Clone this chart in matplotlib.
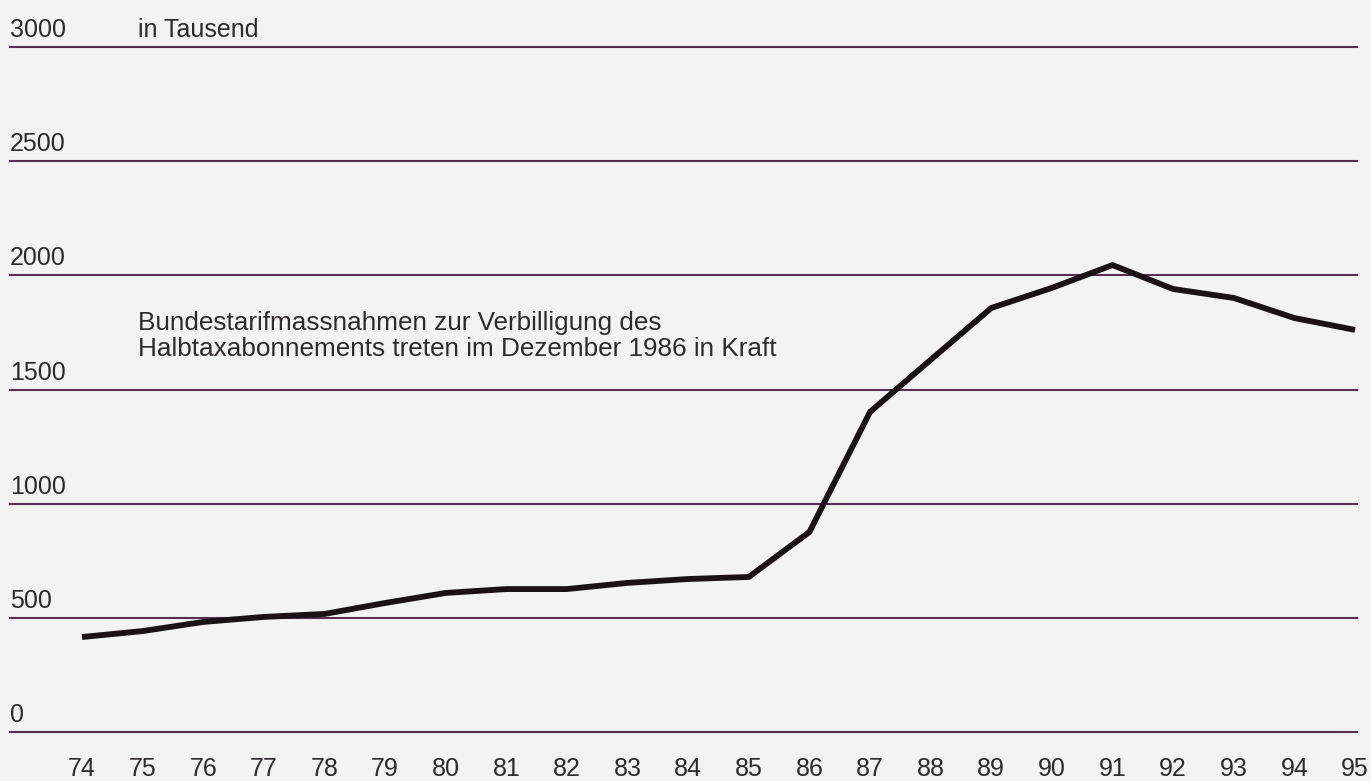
import matplotlib
matplotlib.use("Agg")
import matplotlib.pyplot as plt

years = [74, 75, 76, 77, 78, 79, 80, 81, 82, 83, 84, 85, 86, 87, 88, 89, 90, 91, 92, 93, 94, 95]
values = [416, 442, 482, 504, 517, 565, 609, 626, 626, 653, 670, 679, 876, 1402, 1630, 1857, 1945, 2045, 1940, 1901, 1813, 1761]
ytick_values = [0, 500, 1000, 1500, 2000, 2500, 3000]
xtick_labels = [str(y) for y in years]
unit_label = "in Tausend"
note_lines = ["Bundestarifmassnahmen zur Verbilligung des",
              "Halbtaxabonnements treten im Dezember 1986 in Kraft"]

W, H = 1371, 781
fig = plt.figure(figsize=(W / 100, H / 100), dpi=100)
bg = "#f3f3f3"
fig.patch.set_facecolor(bg)
ax = fig.add_axes([0, 0, 1, 1])
ax.set_facecolor(bg)

# pixel mapping: year 74 -> x=82, 95 -> x=1355 ; value 0 -> y=732, 3000 -> y=47
px_per_year = (1355 - 82) / 21
x_left = 74 - 82 / px_per_year
x_right = 74 + (W - 82) / px_per_year
px_per_val = (732 - 47) / 3000
y_bottom = -(H - 732) / px_per_val
y_top = 732 / px_per_val
ax.set_xlim(x_left, x_right)
ax.set_ylim(y_bottom, y_top)
ax.axis("off")

font = ["Liberation Sans", "DejaVu Sans"]
fs = 18
txt_color = "#2f2a30"
grid_color = "#553050"

for v in ytick_values:
    ax.axhline(v, xmin=10 / W, xmax=1357 / W, color=grid_color, lw=1.5, zorder=1)
    ax.annotate(str(v), xy=(10 / W, v), xycoords=("axes fraction", "data"),
                xytext=(0, 5), textcoords="offset pixels",
                ha="left", va="bottom", fontsize=fs, color=txt_color, family=font)

ax.plot(years, values, color="#1b1216", lw=4.2, solid_joinstyle="round",
        solid_capstyle="butt", zorder=3)

for y, lab in zip(years, xtick_labels):
    ax.annotate(lab, xy=(y, 0), xycoords="data", xytext=(0, -25),
                textcoords="offset pixels", ha="center", va="top",
                fontsize=fs, color=txt_color, family=font)

ax.annotate(unit_label, xy=(138 / W, 3000), xycoords=("axes fraction", "data"),
            xytext=(0, 5), textcoords="offset pixels", ha="left", va="bottom",
            fontsize=fs, color=txt_color, family=font)

fig.text(138 / W, 1 - 323 / H, note_lines[0], ha="left", va="center",
         fontsize=18.8, color=txt_color, family=font)
fig.text(138 / W, 1 - 349 / H, note_lines[1], ha="left", va="center",
         fontsize=18.8, color=txt_color, family=font)

fig.savefig("out.png", dpi=100, facecolor=bg)
